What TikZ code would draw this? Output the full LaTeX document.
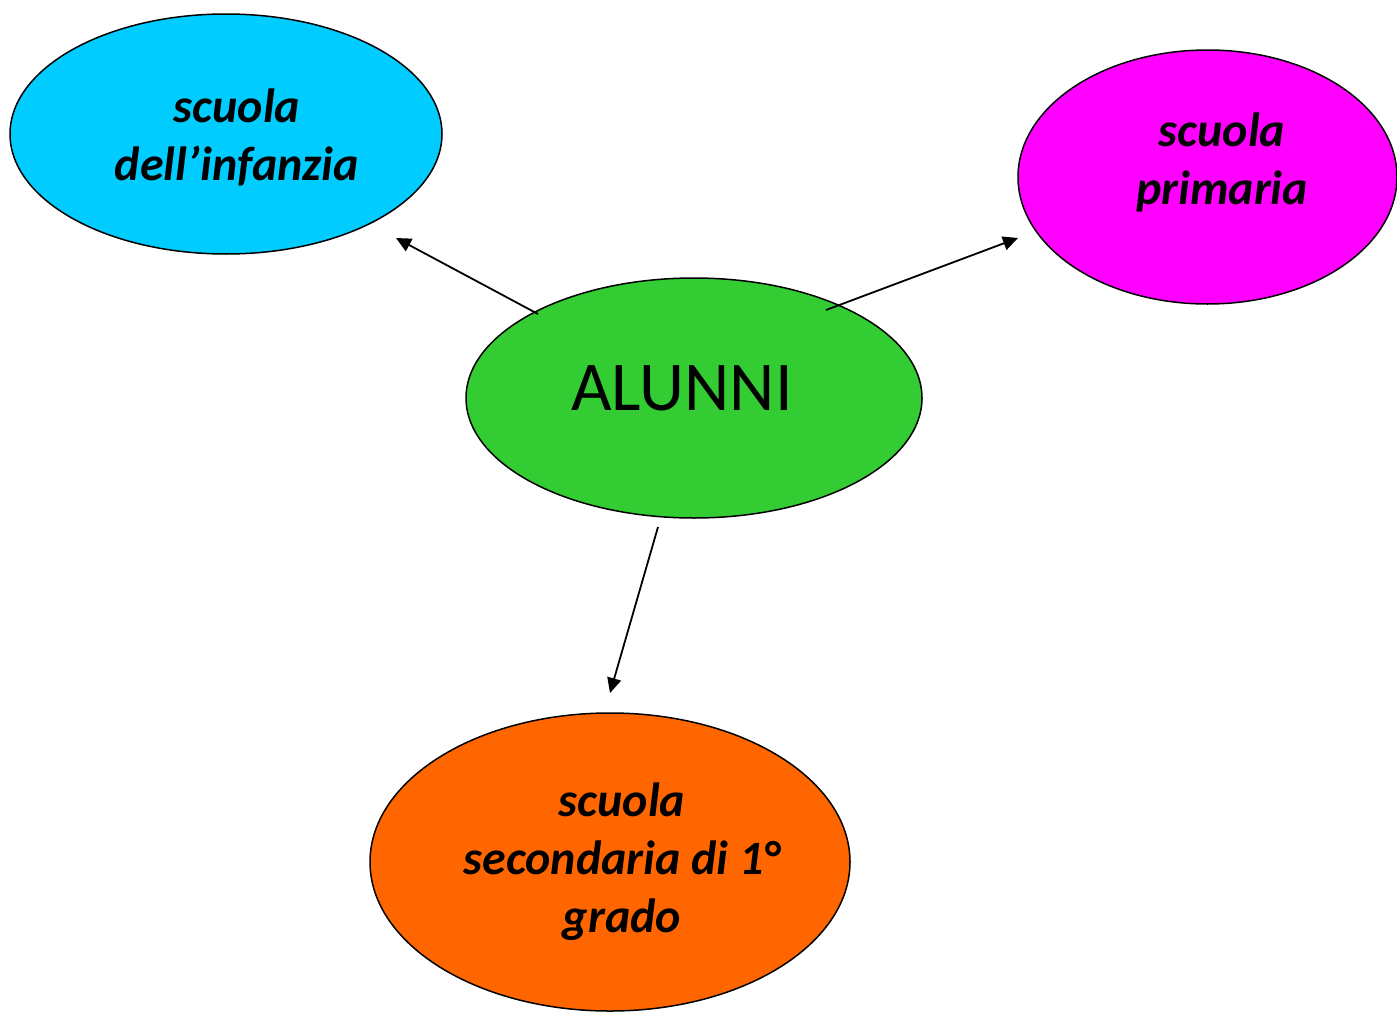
\documentclass[tikz,border=0pt]{standalone}
\usepackage{fontspec}
\setmainfont{Carlito}
\usetikzlibrary{shapes.geometric,arrows.meta}
\definecolor{cyanfill}{HTML}{00CCFF}
\definecolor{magfill}{HTML}{FF00FF}
\definecolor{greenfill}{HTML}{33CC33}
\definecolor{orangefill}{HTML}{FF6600}
\tikzset{
  blob/.style={ellipse, draw=black, line width=0.75pt, inner sep=0pt},
  lbl/.style={align=center, font=\fontsize{24}{29}\selectfont\bfseries\itshape, inner sep=0pt},
  conn/.style={line width=0.9pt, -{Triangle[length=7.5pt,width=7pt]}}
}
\begin{document}
\begin{tikzpicture}[x=0.5pt,y=-0.5pt]
\useasboundingbox (0,0) rectangle (1397,1012);
\node[blob, fill=cyanfill, minimum width=216pt, minimum height=120pt] (inf) at (226,134) {};
\node[blob, fill=magfill, minimum width=189.5pt, minimum height=127pt] (pri) at (1207.5,177) {};
\node[blob, fill=greenfill, minimum width=228pt, minimum height=120pt] (alu) at (694,398) {};
\node[blob, fill=orangefill, minimum width=240pt, minimum height=149pt] (sec) at (610,862) {};
\node[lbl] (tinf) at (237,137) {scuola\\dell’infanzia};
\node[lbl] (tpri) at (1222,162) {scuola\\primaria};
\node[lbl] (tsec) at (622,862) {scuola\\secondaria di 1°\\grado};
\node[font=\fontsize{35}{42}\selectfont, inner sep=0pt, anchor=base] (talu) at (682,410) {ALUNNI};
\coordinate (a1) at (538,314);
\coordinate (b1) at (396,238);
\coordinate (a2) at (826,310);
\coordinate (b2) at (1018,238);
\coordinate (a3) at (658,527);
\coordinate (b3) at (610,693);
\draw[conn] (a1) -- (b1);
\draw[conn] (a2) -- (b2);
\draw[conn] (a3) -- (b3);
\end{tikzpicture}
\end{document}
